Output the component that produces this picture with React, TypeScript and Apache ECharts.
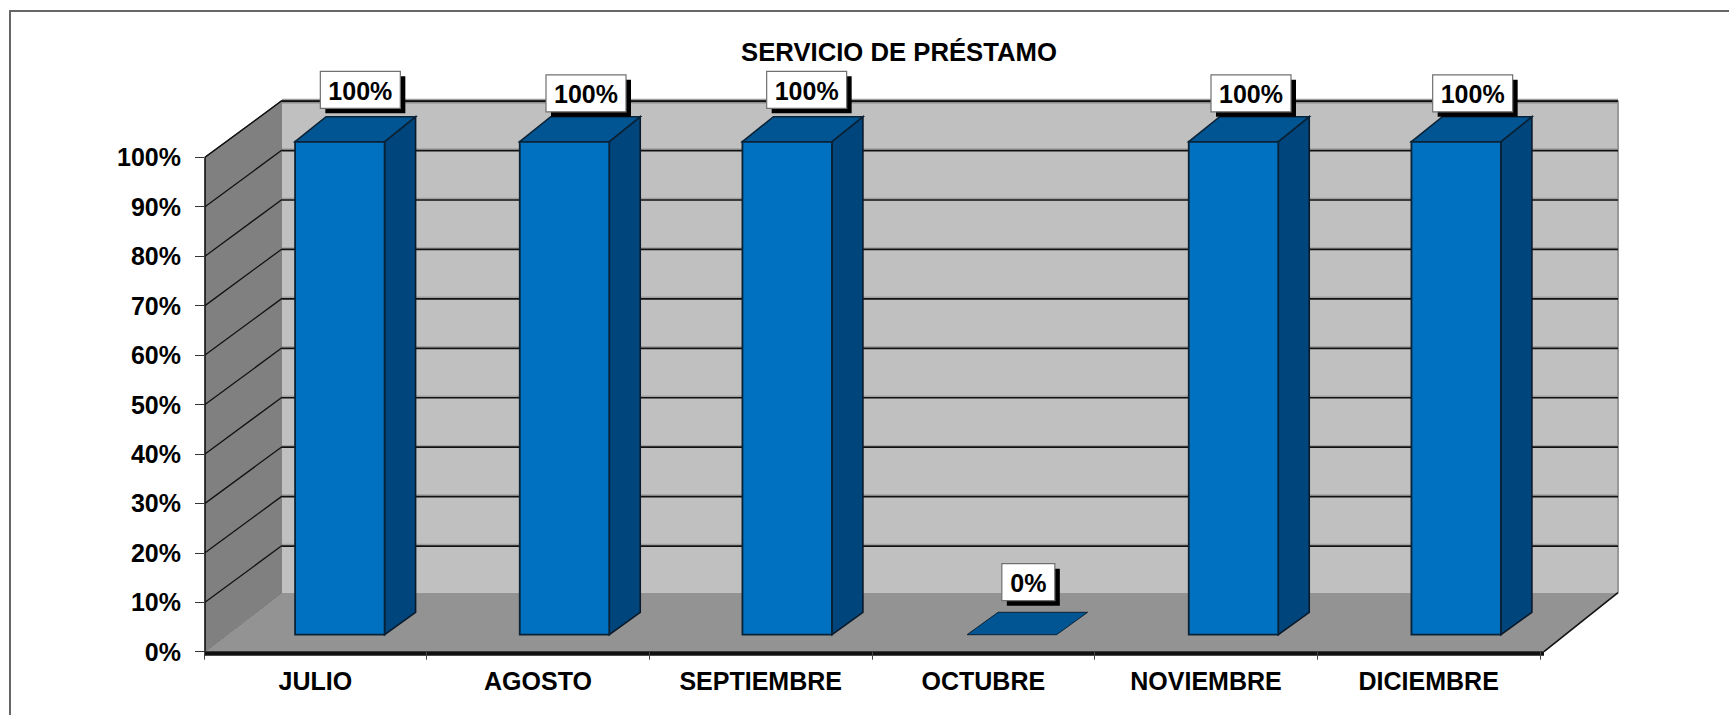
import React, { useEffect, useRef } from "react";
import * as echarts from "echarts";

const categories = ["JULIO", "AGOSTO", "SEPTIEMBRE", "OCTUBRE", "NOVIEMBRE", "DICIEMBRE"];
const values = [100, 100, 100, 0, 100, 100];
const gridTicks = [10, 20, 30, 40, 50, 60, 70, 80, 90, 100];

const FONT = '"Liberation Sans", Arial, sans-serif';
const DEPTH_X = 77;
const DEPTH_Y = 56.7;
const FLOOR_DEPTH_Y = 59;
const RIGHT_EXTRA = 4;
// small hand-placement differences per category in the reference
const BAR_NUDGE = [-2, 0, 0, 2, 1, 1];
const LABEL_NUDGE_X = [0, 3, 1, 0, 0, -1];
const LABEL_NUDGE_Y = [0, 3.5, 0, -2, 3.5, 3.5];

function polygon(points: number[][], fill: string, stroke?: string, lineWidth = 1.5) {
  return { type: "polygon", shape: { points }, style: { fill, stroke: stroke || "none", lineWidth } };
}
function line(points: number[][], stroke: string, lineWidth: number) {
  return { type: "polyline", shape: { points }, style: { fill: "none", stroke, lineWidth } };
}

function plotBox(api: any) {
  const half = api.size([1, 0])[0] / 2;
  const first = api.coord([0, 0]);
  const last = api.coord([categories.length - 1, 100]);
  return { left: first[0] - half + 1, right: last[0] + half + RIGHT_EXTRA, bottom: first[1], top: last[1] };
}

function renderWalls(_: any, api: any) {
  const b = plotBox(api);
  const backL = b.left + DEPTH_X;
  const backR = b.right + DEPTH_X - 3;
  const backT = b.top - DEPTH_Y;
  const backB = b.bottom - FLOOR_DEPTH_Y;
  return {
    type: "group",
    children: [
      polygon([[backL, backT], [backR, backT], [backR, backB], [backL, backB]], "#C0C0C0"),
      line([[backL, backT], [backR, backT]], "#5a5a5a", 2),
      line([[backL, backT + 2], [backR, backT + 2]], "#8c8c8c", 2),
      line([[backR, backT], [backR, backB]], "#999999", 2),
      polygon([[b.left, b.top], [backL, backT], [backL, backB], [b.left, b.bottom]], "#808080"),
      line([[b.left, b.top], [backL, backT]], "#222222", 1.2),
      line([[b.left, b.top], [b.left, b.bottom]], "#111111", 1.6),
      polygon([[b.left, b.bottom], [backL, backB], [backR, backB], [b.right, b.bottom]], "#939393"),
      line([[b.left, b.bottom], [backL, backB]], "#777777", 1),
      line([[b.right, b.bottom], [backR, backB]], "#111111", 1.6),
    ],
  };
}

function renderGrid(_: any, api: any) {
  const b = plotBox(api);
  const y = api.coord([0, api.value(1)])[1];
  const backL = b.left + DEPTH_X;
  const backR = b.right + DEPTH_X - 3;
  const backY = y - DEPTH_Y;
  return {
    type: "group",
    children: [
      line([[b.left, y], [backL, backY]], "#111111", 1.3),
      line([[backL, backY - 1], [backR, backY - 1]], "#a0a0a0", 1.5),
      line([[backL, backY + 0.5], [backR, backY + 0.5]], "#111111", 1.7),
    ],
  };
}

function renderAxisBand(_: any, api: any) {
  const b = plotBox(api);
  return {
    type: "rect",
    shape: { x: b.left - 1, y: b.bottom - 0.5, width: b.right - b.left + 1, height: 4.5 },
    style: { fill: "#111111" },
  };
}

function renderBar(_: any, api: any) {
  const i = api.value(0);
  const v = api.value(1);
  const base = api.coord([i, 0]);
  const top = api.coord([i, v]);
  const cx = base[0] + 26.5 + BAR_NUDGE[i];
  const w = 89.5;
  const x0 = cx - w / 2;
  const x1 = cx + w / 2;
  const y0 = base[1] - 17;
  const yT = top[1] - 17 + (v / 100) * 1.4;
  const dx = 31;
  const dy = 22.4 + (v / 100) * 2.6;
  const dyB = 22.4;
  const children: any[] = [];
  if (v > 0) {
    children.push(polygon([[x1, yT], [x1 + dx, yT - dy], [x1 + dx, y0 - dyB], [x1, y0]], "#00467D", "#0a1a2a", 1.6));
    children.push(polygon([[x0, yT], [x1, yT], [x1, y0], [x0, y0]], "#0070C0", "#0a2236", 1.8));
    children.push(polygon([[x0, yT], [x0 + dx, yT - dy], [x1 + dx, yT - dy], [x1, yT]], "#005592", "#0a2236", 1.6));
  } else {
    children.push(polygon([[x0, y0], [x0 + dx, y0 - dyB], [x1 + dx, y0 - dyB], [x1, y0]], "#005592", "#0a2236", 1));
  }
  return { type: "group", children };
}

function renderLabel(_: any, api: any) {
  const i = api.value(0);
  const v = api.value(1);
  const p = api.coord([i, v]);
  const text = `${v}%`;
  const w = text.length > 2 ? 80 : 53;
  const h = 37;
  const cx = p[0] + 45 + LABEL_NUDGE_X[i];
  const cy = p[1] - 67.5 + LABEL_NUDGE_Y[i];
  const x = cx - w / 2;
  const y = cy - h / 2;
  return {
    type: "group",
    children: [
      { type: "rect", shape: { x: x + 5, y: y + 5, width: w, height: h }, style: { fill: "#000000" } },
      { type: "rect", shape: { x, y, width: w, height: h }, style: { fill: "#ffffff", stroke: "#707070", lineWidth: 1.2 } },
      {
        type: "text",
        style: {
          text, x: cx, y: cy + 1, align: "center", verticalAlign: "middle",
          fontFamily: FONT, fontWeight: "bold", fontSize: 25, fill: "#000000",
        },
      },
    ],
  };
}

const noEvents = { silent: true, animation: false };

export default function App() {
  const ref = useRef<HTMLDivElement>(null);
  useEffect(() => {
    const chart = echarts.init(ref.current!, null, { renderer: "svg" });
    const barData = categories.map((_, i) => [i, values[i]]);
    chart.setOption({
      animation: false,
      backgroundColor: "#ffffff",
      title: {
        text: "SERVICIO DE PRÉSTAMO",
        left: 894,
        top: 34,
        textAlign: "center",
        textStyle: { fontFamily: FONT, fontWeight: "bold", fontSize: 25.7, color: "#000000" },
      },
      graphic: [
        {
          type: "polyline",
          shape: { points: [[10, 716], [10, 11], [1730, 11]] },
          style: { fill: "none", stroke: "#666666", lineWidth: 2 },
          z: 0,
        },
      ],
      grid: { left: 204, right: 1729 - 1540, top: 157.3, bottom: 715 - 651.7, containLabel: false },
      xAxis: {
        type: "category",
        data: categories,
        axisLine: { show: false },
        axisTick: { show: true, length: 8, lineStyle: { color: "#444444", width: 1 } },
        axisLabel: {
          margin: 17,
          fontFamily: FONT, fontWeight: "bold", fontSize: 25, color: "#000000",
          interval: 0,
        },
        splitLine: { show: false },
        z: 8,
      },
      yAxis: {
        type: "value",
        min: 0,
        max: 100,
        interval: 10,
        axisLine: { show: false },
        axisTick: { show: true, length: 9, lineStyle: { color: "#333333", width: 1 } },
        axisLabel: {
          formatter: "{value}%",
          margin: 23,
          fontFamily: FONT, fontWeight: "bold", fontSize: 25, color: "#000000",
        },
        splitLine: { show: false },
      },
      series: [
        { ...noEvents, type: "custom", z: 1, renderItem: renderWalls, data: [[0, 0]], encode: { x: 0, y: 1 } },
        { ...noEvents, type: "custom", z: 2, renderItem: renderGrid, data: gridTicks.map((t) => [0, t]), encode: { x: 0, y: 1 } },
        { ...noEvents, type: "custom", z: 3, renderItem: renderAxisBand, data: [[0, 0]], encode: { x: 0, y: 1 } },
        { ...noEvents, type: "custom", z: 4, renderItem: renderBar, data: barData, encode: { x: 0, y: 1 } },
        { ...noEvents, type: "custom", z: 5, renderItem: renderLabel, data: barData, encode: { x: 0, y: 1 } },
      ],
    });
    return () => chart.dispose();
  }, []);
  return (
    <div
      ref={ref}
      style={{ position: "absolute", left: 0, top: 0, width: 1729, height: 715 }}
    />
  );
}
